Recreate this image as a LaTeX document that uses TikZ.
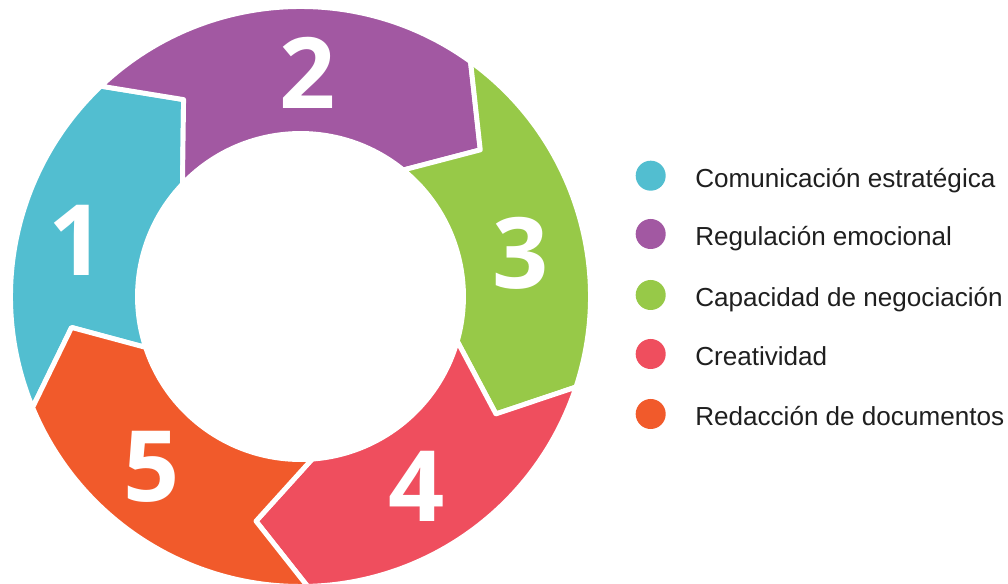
\documentclass[tikz,border=0pt]{standalone}
\usepackage{fontspec}
\setmainfont{Liberation Sans}
\newfontfamily\numfont{Open Sans}
\definecolor{cyanseg}{HTML}{52BED0}
\definecolor{purpleseg}{HTML}{A258A2}
\definecolor{greenseg}{HTML}{97C948}
\definecolor{redseg}{HTML}{EF4E5E}
\definecolor{orangeseg}{HTML}{F15A2B}
\begin{document}
\begin{tikzpicture}[x=0.025cm, y=0.025cm,
    segment/.style ={draw=white, line width=3.5pt, line join=round},
    number/.style ={text=white, inner sep=0, font=\numfont\bfseries\fontsize{70}{70}\selectfont},
    dot/.style ={circle, inner sep=0, minimum size=0.75cm},
    item/.style ={anchor=base west, inner sep=0, text=black!88, font=\fontsize{18.55}{22}\selectfont}]
   \useasboundingbox (-300.5,-287.5) rectangle (707.5,296.5);

   % ring of five arrows, clockwise
   \filldraw[segment, fill=cyanseg] (202.5:290) arc[start angle=202.5, end angle=133.5, radius=290]
     -- (120.7:229) -- (136.4:163) arc[start angle=136.4, end angle=198.2, radius=163] -- (187.7:231) -- cycle;
   \filldraw[segment, fill=purpleseg] (133.5:290) arc[start angle=133.5, end angle=54.1, radius=290]
     -- (39.2:232) -- (50.9:163) arc[start angle=50.9, end angle=136.4, radius=163] -- (120.7:229) -- cycle;
   \filldraw[segment, fill=greenseg] (54.1:290) arc[start angle=54.1, end angle=-18.2, radius=290]
     -- (-31:228) -- (-15.9:163) arc[start angle=-15.9, end angle=50.9, radius=163] -- (39.2:232) -- cycle;
   \filldraw[segment, fill=redseg] (-18.2:290) arc[start angle=-18.2, end angle=-88.6, radius=290]
     -- (-101.2:229) -- (-85.9:163) arc[start angle=-85.9, end angle=-15.9, radius=163] -- (-31:228) -- cycle;
   \filldraw[segment, fill=orangeseg] (-88.6:290) arc[start angle=-88.6, end angle=-157.5, radius=290]
     -- (-172.3:231) -- (-161.8:163) arc[start angle=-161.8, end angle=-85.9, radius=163] -- (-101.2:229) -- cycle;

   \node[number] (N1) at (-223.5,56.5) {1};
   \node[number] (N2) at (7,224) {2};
   \node[number] (N3) at (220.5,43.5) {3};
   \node[number] (N4) at (116.5,-189.5) {4};
   \node[number] (N5) at (-149,-170) {5};

   % legend
   \node[dot, fill=cyanseg] (D1) at (350.2,120.8) {};
   \node[dot, fill=purpleseg] (D2) at (350.2,62.5) {};
   \node[dot, fill=greenseg] (D3) at (350.2,1.5) {};
   \node[dot, fill=redseg] (D4) at (350.2,-57.5) {};
   \node[dot, fill=orangeseg] (D5) at (350.2,-117.5) {};

   \node[item] (L1) at (394.5,109.3) {Comunicación estratégica};
   \node[item] (L2) at (394.5,50.5) {Regulación emocional};
   \node[item] (L3) at (394.5,-10) {Capacidad de negociación};
   \node[item] (L4) at (394.5,-69) {Creatividad};
   \node[item] (L5) at (394.5,-129) {Redacción de documentos};
 \end{tikzpicture}
\end{document}
